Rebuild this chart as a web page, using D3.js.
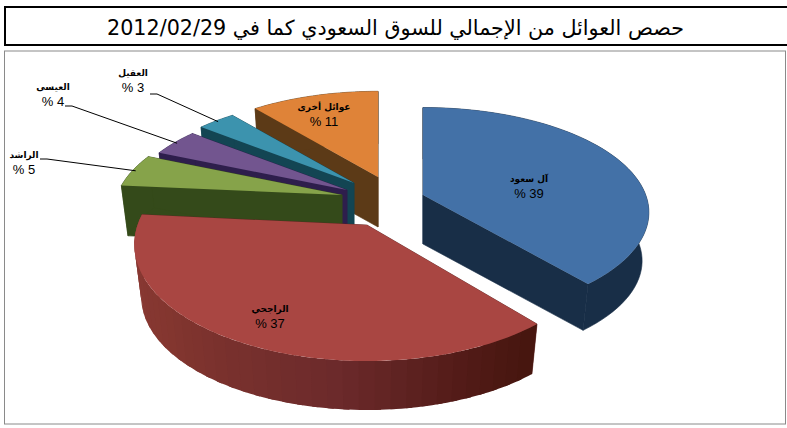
<!DOCTYPE html>
<html lang="ar"><head><meta charset="utf-8">
<script src="https://cdn.jsdelivr.net/npm/d3@7/dist/d3.min.js"></script>
<style>html,body{margin:0;padding:0;background:#fff;overflow:hidden}svg{display:block}</style>
</head><body><div id="c"></div>
<script>
const titleText = "حصص العوائل من الإجمالي للسوق السعودي كما في 2012/02/29";
const names = ["آل سعود","الراجحي","الراشد","العيسى","العقيل","عوائل أخرى"];
const values = [38.6,37.49,5,4.2,3.3,10.9];

// styling / layout
const topColors  = ["#4371a7","#a94642","#86a34a","#72558f","#3c93ae","#df8338"];
const sideColors = ["#182e47","#5c2523","#344a1a","#2e1e4c","#134553","#5c3a17"];
const apexes = [[423,195],[367,225],[342,195],[347,190],[354,183],[378,177]];
const radiusScale = [.99,1.02,1,.97,.96,.97];
const yScale = [1,1.08,1,1,1,1];
const depths = [49,53,50,50,50,50];
const labelPos = [[529,182],[270,312],[24,158],[53,90],[133,76],[324,110]];
const kneePos = [null,null,[47,159],[72,106],[157,94],null];
const R=225, A=103, K=0.166, BOTTOM_SCALE=0.97;

const svg=d3.select("#c").append("svg").attr("width",787).attr("height",428);
svg.append("rect").attr("x",4.5).attr("y",51).attr("width",781).attr("height",373).attr("fill","#fff").attr("stroke","#8a8a8a").attr("stroke-width",1);
svg.append("rect").attr("x",5).attr("y",7).attr("width",790).attr("height",38).attr("fill","#fff").attr("stroke","#000").attr("stroke-width",2);
svg.append("text").attr("x",395.5).attr("y",35).attr("text-anchor","middle").attr("direction","rtl")
  .attr("font-family","'DejaVu Sans'").attr("font-size",20.7).attr("fill","#000").text(titleText);

const arcs=d3.pie().sort(null).value(d=>d)(values);
const line=d3.line();
function proj(i,a,rs=1,bottom=false){
  const X=Math.sin(a)*rs, Y=-Math.cos(a)*rs, den=1-K*Y, s=bottom?BOTTOM_SCALE:1;
  return [apexes[i][0]+s*R*radiusScale[i]*X/den, apexes[i][1]+(bottom?depths[i]:0)+s*A*radiusScale[i]*yScale[i]*Y/den];
}
const angles=(a0,a1)=>d3.range(0,61).map(t=>a0+(a1-a0)*t/60);
const redWall=d3.scaleLinear().domain([276,230,185,160,142].map(d=>d*Math.PI/180))
  .range(["#8e3b37","#83362f","#6c2a2b","#541c19","#47160f"]);

[5,4,3,2,0,1].forEach(i=>{
  const {startAngle:a0,endAngle:a1}=arcs[i], g=svg.append("g");
  const apex=apexes[i], apexB=[apex[0],apex[1]+depths[i]];
  // cut faces
  [a0,a1].forEach(a=>g.append("path").attr("fill",sideColors[i]).attr("stroke",sideColors[i]).attr("stroke-width",.6)
    .attr("d",line([apex,proj(i,a),proj(i,a,1,true),apexB])+"Z"));
  // outer wall: one flat band, or overlapping shaded strips on the big red slice
  if(i!==1){
    const ts=angles(a0,a1);
    g.append("path").attr("fill",sideColors[i]).attr("stroke",sideColors[i]).attr("stroke-width",.6)
      .attr("d",line(ts.map(a=>proj(i,a)).concat(ts.slice().reverse().map(a=>proj(i,a,1,true))))+"Z");
  } else {
    const step=(a1-a0)/40;
    d3.range(39,-1,-1).forEach(n=>{
      const a=a0+n*step, b=Math.min(a+step*1.4,a1);
      const ts=d3.range(0,5).map(t=>a+(b-a)*t/4);
      g.append("path").attr("fill",redWall(a+step/2))
        .attr("d",line(ts.map(t=>proj(i,t)).concat(ts.slice().reverse().map(t=>proj(i,t,1,true))))+"Z");
    });
  }
  g.append("path").attr("fill",topColors[i])
    .attr("d",line([apex,...angles(a0,a1).map(a=>proj(i,a))])+"Z");
});

// leader lines
arcs.forEach((d,i)=>{
  if(!kneePos[i])return;
  const end=proj(i,(d.startAngle+d.endAngle)/2,.985);
  const k=kneePos[i];
  svg.append("path").attr("fill","none").attr("stroke","#000").attr("stroke-width",1)
    .attr("d",line([[k[0]-7,k[1]],k,end]));
});
// labels
arcs.forEach((d,i)=>{
  const [x,y]=labelPos[i];
  svg.append("text").attr("x",x).attr("y",y).attr("text-anchor","middle").attr("direction","rtl")
    .attr("font-family","'DejaVu Sans'").attr("font-size",9).attr("font-weight","bold").attr("fill","#000").text(names[i]);
  svg.append("text").attr("x",x).attr("y",y+16).attr("text-anchor","middle")
    .attr("font-family","'Liberation Sans'").attr("font-size",13).attr("fill","#000").text("% "+Math.round(values[i]));
});
</script></body></html>
